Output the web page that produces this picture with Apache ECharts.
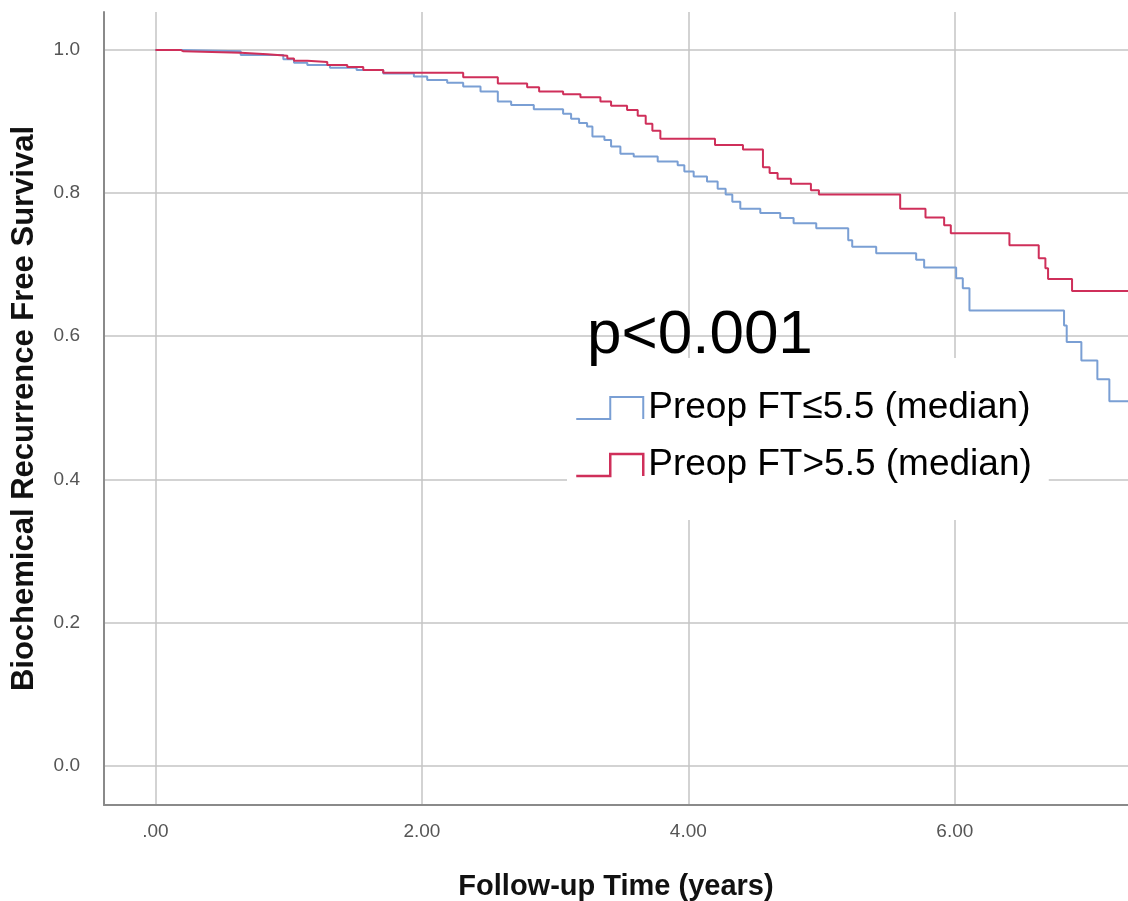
<!DOCTYPE html>
<html>
<head>
<meta charset="utf-8">
<script src="https://cdn.jsdelivr.net/npm/echarts@6/dist/echarts.min.js"></script>
<style>
html,body{margin:0;padding:0;background:#fff;}
#chart{width:1128px;height:901px;}
</style>
</head>
<body>
<div id="chart"></div>
<script>
// ---- data ----
const lowTimes = [0, 0.19, 0.64, 0.96, 1.04, 1.14, 1.31, 1.51, 1.71, 1.94, 2.04, 2.19, 2.31, 2.44, 2.57, 2.67, 2.84, 3.06, 3.12, 3.18, 3.24, 3.28, 3.37, 3.42, 3.49, 3.59, 3.77, 3.92, 3.97, 4.04, 4.14, 4.22, 4.28, 4.33, 4.39, 4.54, 4.69, 4.79, 4.96, 5.20, 5.23, 5.41, 5.71, 5.77, 6.01, 6.06, 6.11, 6.82, 6.84, 6.95, 7.07, 7.16, 7.30];
const lowSurv  = [1.0, 0.998, 0.993, 0.987, 0.982, 0.979, 0.975, 0.972, 0.967, 0.963, 0.958, 0.954, 0.949, 0.942, 0.928, 0.923, 0.917, 0.911, 0.904, 0.898, 0.893, 0.879, 0.874, 0.865, 0.855, 0.851, 0.844, 0.839, 0.830, 0.823, 0.816, 0.806, 0.798, 0.788, 0.778, 0.772, 0.765, 0.758, 0.751, 0.734, 0.725, 0.716, 0.707, 0.696, 0.681, 0.667, 0.636, 0.615, 0.592, 0.566, 0.540, 0.509, 0.509];

const highTimes = [0, 0.19, 0.21, 0.64, 0.84, 0.99, 1.04, 1.14, 1.29, 1.44, 1.56, 1.71, 2.31, 2.57, 2.79, 2.88, 3.06, 3.19, 3.34, 3.42, 3.54, 3.62, 3.68, 3.73, 3.79, 4.20, 4.41, 4.56, 4.61, 4.67, 4.77, 4.92, 4.98, 5.59, 5.78, 5.92, 5.97, 6.41, 6.63, 6.68, 6.70, 6.88, 7.30];
const highSurv  = [1.0, 0.998, 0.996, 0.994, 0.992, 0.988, 0.985, 0.983, 0.979, 0.976, 0.972, 0.968, 0.962, 0.953, 0.948, 0.942, 0.938, 0.934, 0.928, 0.922, 0.916, 0.908, 0.897, 0.887, 0.876, 0.867, 0.861, 0.836, 0.828, 0.820, 0.813, 0.804, 0.798, 0.778, 0.766, 0.755, 0.744, 0.727, 0.709, 0.695, 0.680, 0.663, 0.663];

const seriesNames = ['Preop FT\u22645.5 (median)', 'Preop FT>5.5 (median)'];
const xTickValues = [0, 2, 4, 6];
const xTickLabels = ['.00', '2.00', '4.00', '6.00'];
const yTickValues = [0, 0.2, 0.4, 0.6, 0.8, 1.0];
const yTickLabels = ['0.0', '0.2', '0.4', '0.6', '0.8', '1.0'];
const pValueText = 'p<0.001';

function zip(a, b) { return a.map((v, i) => [v, b[i]]); }
function labelFor(values, labels) {
  return function (v) {
    for (let i = 0; i < values.length; i++) if (Math.abs(values[i] - v) < 1e-6) return labels[i];
    return '';
  };
}

const blue = '#7a9fd4';
const red = '#cf2f5a';
const stepIcon = 'path://M0,22 L34,22 L34,0 L67,0 L67,22';

const chart = echarts.init(document.getElementById('chart'), null, { renderer: 'canvas' });
chart.setOption({
  animation: false,
  backgroundColor: '#fff',
  textStyle: { fontFamily: '"Liberation Sans", Arial, sans-serif' },
  grid: { left: 104, right: 0, top: 12, bottom: 96, containLabel: false, outerBoundsMode: 'none' },
  xAxis: {
    type: 'value', min: -0.386, max: 7.30,
    axisLine: { onZero: false, lineStyle: { color: '#8a8a8a', width: 2 } },
    axisTick: { show: false, customValues: xTickValues },
    axisLabel: { customValues: xTickValues, formatter: labelFor(xTickValues, xTickLabels), fontSize: 19, color: '#555', margin: 17 },
    splitLine: { show: true, lineStyle: { color: '#c4c4c4', width: 1.5 } },
    name: 'Follow-up Time (years)', nameLocation: 'middle', nameGap: 67,
    nameTextStyle: { fontWeight: 'bold', fontSize: 29, color: '#111' }
  },
  yAxis: {
    type: 'value', min: -0.055, max: 1.053,
    axisLine: { show: true, onZero: false, lineStyle: { color: '#8a8a8a', width: 2 } },
    axisTick: { show: false, customValues: yTickValues },
    axisLabel: { customValues: yTickValues, formatter: labelFor(yTickValues, yTickLabels), fontSize: 19, color: '#555', margin: 24 },
    splitLine: { show: true, lineStyle: { color: '#c4c4c4', width: 1.5 } },
    name: 'Biochemical Recurrence Free Survival', nameLocation: 'middle', nameGap: 64, nameRotate: 90,
    nameTextStyle: { fontWeight: 'bold', fontSize: 31, color: '#111' }
  },
  legend: {
    orient: 'vertical', left: 567, top: 358,
    backgroundColor: '#fff',
    padding: [26, 17, 31, 8],
    itemWidth: 67, itemHeight: 22, itemGap: 9,
    textStyle: { fontFamily: '"Liberation Sans Narrow", "Liberation Sans", Arial, sans-serif', fontSize: 37, lineHeight: 48, color: '#000' },
    selectedMode: false,
    data: [
      { name: seriesNames[0], icon: stepIcon, itemStyle: { color: 'transparent', borderColor: blue, borderWidth: 2 } },
      { name: seriesNames[1], icon: stepIcon, itemStyle: { color: 'transparent', borderColor: red, borderWidth: 2.5 } }
    ]
  },
  graphic: [{
    type: 'text', left: 587, top: 305, z: 100,
    style: { text: pValueText, font: '62px "Liberation Sans", Arial, sans-serif', fill: '#000' }
  }],
  series: [
    { name: seriesNames[0], type: 'line', step: 'end', showSymbol: false, symbol: 'none',
      data: zip(lowTimes, lowSurv), lineStyle: { color: blue, width: 2 }, itemStyle: { color: blue } },
    { name: seriesNames[1], type: 'line', step: 'end', showSymbol: false, symbol: 'none',
      data: zip(highTimes, highSurv), lineStyle: { color: red, width: 2 }, itemStyle: { color: red } }
  ]
});
</script>
</body>
</html>
